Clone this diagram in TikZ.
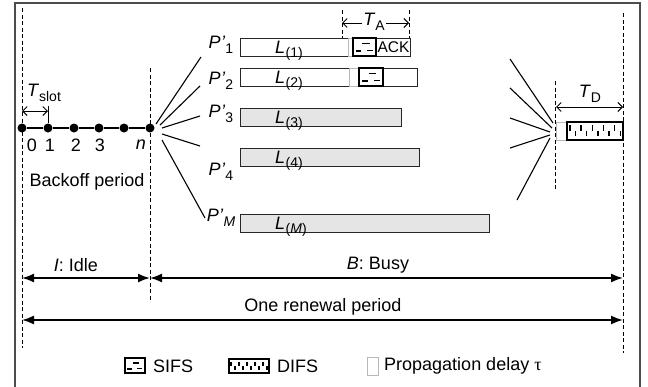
\documentclass[tikz,border=0pt]{standalone}
\usepackage{fontspec}
\setmainfont{Liberation Sans}
\newfontfamily\taufont{Liberation Serif}
\usetikzlibrary{arrows.meta}
\newcommand\sbx[1]{\raisebox{-4.5pt}{\fontsize{14}{14}\selectfont #1}}
\newcommand\Pl[1]{\textit{P}\kern0.3pt\textit{’}\kern0.2pt\sbx{#1}}
\newcommand\Ll[1]{\textit{L}\kern0.5pt\sbx{(#1)}}
\tikzset{
  dline/.style={line width=0.9pt, dash pattern=on 4pt off 2.5pt},
  barbox/.style={draw=black!85, line width=0.9pt},
  pdbox/.style={draw=black!28, line width=0.9pt},
  dimarr/.style={line width=1pt, {Straight Barb[length=4.5pt,width=9pt]}-{Straight Barb[length=4.5pt,width=9pt]}},
  bigarr/.style={line width=1.7pt, {Latex[length=12pt,width=9pt]}-{Latex[length=12pt,width=9pt]}},
  fanline/.style={line width=1.1pt},
  frameline/.style={draw=black!70, line width=1.1pt},
  bdot/.style={circle, fill=black, inner sep=0pt, minimum size=9pt},
  lbl/.style={inner sep=0pt},
  sifs/.pic={
    \draw[line width=2.8pt] (0,0) rectangle (1,1);
    \draw[line width=1.4pt] (0.4,0.32) -- (0.72,0.32) (0.12,0.72) -- (0.36,0.72) (0.62,0.7) -- (0.86,0.7);
  },
  difs/.pic={
    \draw[line width=2.8pt] (0,0) rectangle (1,1);
    \foreach \i in {0,...,9} {
      \pgfmathsetmacro\xx{(\i+0.5)/10}
      \ifodd\i
        \draw[line width=1.4pt] (\xx,0.48) -- (\xx,0.8);
      \else
        \draw[line width=1.4pt] (\xx,0.18) -- (\xx,0.5);
      \fi
    }
  }
}
\begin{document}
\begin{tikzpicture}[x=1pt, y=-1pt, font=\fontsize{18}{21}\selectfont]
\useasboundingbox (0,0) rectangle (648,386);
% frame
\draw[frameline] (15,392) -- (15,3) -- (640,3) -- (640,392);

% dashed verticals
\coordinate (dlT) at (22,8);   \coordinate (dlB) at (22,348);
\coordinate (dmT) at (150,68); \coordinate (dmB) at (150,302);
\coordinate (drT) at (623,13); \coordinate (drB) at (623,353);
\coordinate (dtT) at (555,81); \coordinate (dtB) at (555,191);
\coordinate (daL) at (342,10); \coordinate (daLb) at (342,38);
\coordinate (daR) at (409,10); \coordinate (daRb) at (409,38);
\draw[dline] (dlT) -- (dlB);
\draw[dline] (dmT) -- (dmB);
\draw[dline] (drT) -- (drB);
\draw[dline] (dtT) -- (dtB);
\draw[dline] (daL) -- (daLb);
\draw[dline] (daR) -- (daRb);

% backoff slots
\node[bdot] (d0) at (22,128) {};
\node[bdot] (d1) at (48,128) {};
\node[bdot] (d2) at (74,128) {};
\node[bdot] (d3) at (99,128) {};
\node[bdot] (d4) at (124,128) {};
\node[bdot] (d5) at (150,128) {};
\draw[line width=2pt] (d0) -- (d1) -- (d2) -- (d3) -- (d4) -- (d5);
\node[lbl] (n0) at (32,145) {0};
\node[lbl] (n1) at (50,145) {1};
\node[lbl] (n2) at (76,145) {2};
\node[lbl] (n3) at (100,145) {3};
\node[lbl] (nn) at (141,145) {\textit{n}};
\node[lbl] (bp) at (87,182) {Backoff period};
% T_slot
\coordinate (tsL) at (22,111);
\coordinate (tsR) at (48,111);
\draw[line width=1pt] (d1.north) -- (48,106);
\draw[dimarr] (tsL) -- (tsR);
\node[lbl] (tslot) at (44,93) {\textit{T}\sbx{slot}};

% left fan
\coordinate (lf1a) at (156,124); \coordinate (lf1b) at (201,57);
\coordinate (lf2a) at (160,125); \coordinate (lf2b) at (200,86);
\coordinate (lf3a) at (162,128); \coordinate (lf3b) at (200,116);
\coordinate (lf4a) at (162,134); \coordinate (lf4b) at (200,146);
\coordinate (lf5a) at (162,140); \coordinate (lf5b) at (205,218);
\foreach \k in {1,...,5} \draw[fanline] (lf\k a) -- (lf\k b);

% P labels
\node[lbl] (p1) at (221,45) {\Pl{1}};
\node[lbl] (p2) at (221,81) {\Pl{2}};
\node[lbl] (p3) at (221,114) {\Pl{3}};
\node[lbl] (p4) at (221,172) {\Pl{4}};
\node[lbl] (pM) at (221,218) {\Pl{\textit{M}}};

% bars
\draw[barbox, fill=white] (240,38) rectangle (348,56);
\draw[pdbox] (348,38) rectangle (353,56);
\draw[barbox] (376,38) rectangle (410,56);
\pic[xscale=23, yscale=18] at (353,38) {sifs};
\node[lbl, font=\fontsize{15.5}{16}\selectfont] (ack) at (393.5,47) {ACK};

\draw[barbox, fill=white] (240,68) rectangle (349,86);
\draw[pdbox] (349,68) rectangle (359,86);
\draw[barbox] (383,68) rectangle (417,86);
\pic[xscale=24, yscale=18] at (359,68) {sifs};

\draw[barbox, fill=black!10] (240,108) rectangle (401,126);
\draw[barbox, fill=black!10] (240,148) rectangle (419,166);
\draw[barbox, fill=black!10] (240,214) rectangle (489,232);

\node[lbl, anchor=base west] (l1) at (275,53) {\Ll{1}};
\node[lbl, anchor=base west] (l2) at (275,83) {\Ll{2}};
\node[lbl, anchor=base west] (l3) at (275,123) {\Ll{3}};
\node[lbl, anchor=base west] (l4) at (275,163) {\Ll{4}};
\node[lbl, anchor=base west] (lM) at (275,229) {\Ll{\textit{M}}};

% T_A
\coordinate (taL) at (342,23);
\coordinate (taR) at (409,23);
\draw[dimarr] (taL) -- (taR);
\node[lbl, fill=white, inner xsep=1.5pt] (ta) at (374,22) {\textit{T}\sbx{A}};

% right fan
\coordinate (rf1a) at (510,59);  \coordinate (rf1b) at (553,123);
\coordinate (rf2a) at (510,88);  \coordinate (rf2b) at (552,128);
\coordinate (rf3a) at (510,118); \coordinate (rf3b) at (550,132);
\coordinate (rf4a) at (510,148); \coordinate (rf4b) at (550,135);
\coordinate (rf5a) at (517,200); \coordinate (rf5b) at (550,138);
\foreach \k in {1,...,5} \draw[fanline] (rf\k a) -- (rf\k b);

% DIFS
\draw[pdbox] (556,122) rectangle (567,140);
\pic[xscale=56, yscale=18] at (567,122) {difs};
\coordinate (tdL) at (556,107);
\coordinate (tdR) at (623,107);
\draw[dimarr] (tdL) -- (tdR);
\node[lbl] (td) at (590,94) {\textit{T}\sbx{D}};

% bottom arrows
\coordinate (iL) at (22,278);  \coordinate (iR) at (150,278);
\coordinate (bR) at (623,278);
\coordinate (rL) at (22,320);  \coordinate (rR) at (623,320);
\draw[bigarr] (iL) -- (iR);
\draw[bigarr] (iR) -- (bR);
\draw[bigarr] (rL) -- (rR);
\node[lbl] (idle) at (76,265) {\textit{I}: Idle};
\node[lbl] (busy) at (378,265) {\textit{B}: Busy};
\node[lbl] (ren) at (323,307) {One renewal period};

% legend
\pic[xscale=20, yscale=15] at (125,358) {sifs};
\node[lbl, anchor=west] (lsifs) at (153,366) {SIFS};
\pic[xscale=40, yscale=14] at (229,359) {difs};
\node[lbl, anchor=west] (ldifs) at (277,366) {DIFS};
\draw[pdbox] (367,357) rectangle (378,375);
\node[lbl, anchor=west] (lpd) at (384,366) {Propagation delay {\taufont τ}};
\end{tikzpicture}
\end{document}
